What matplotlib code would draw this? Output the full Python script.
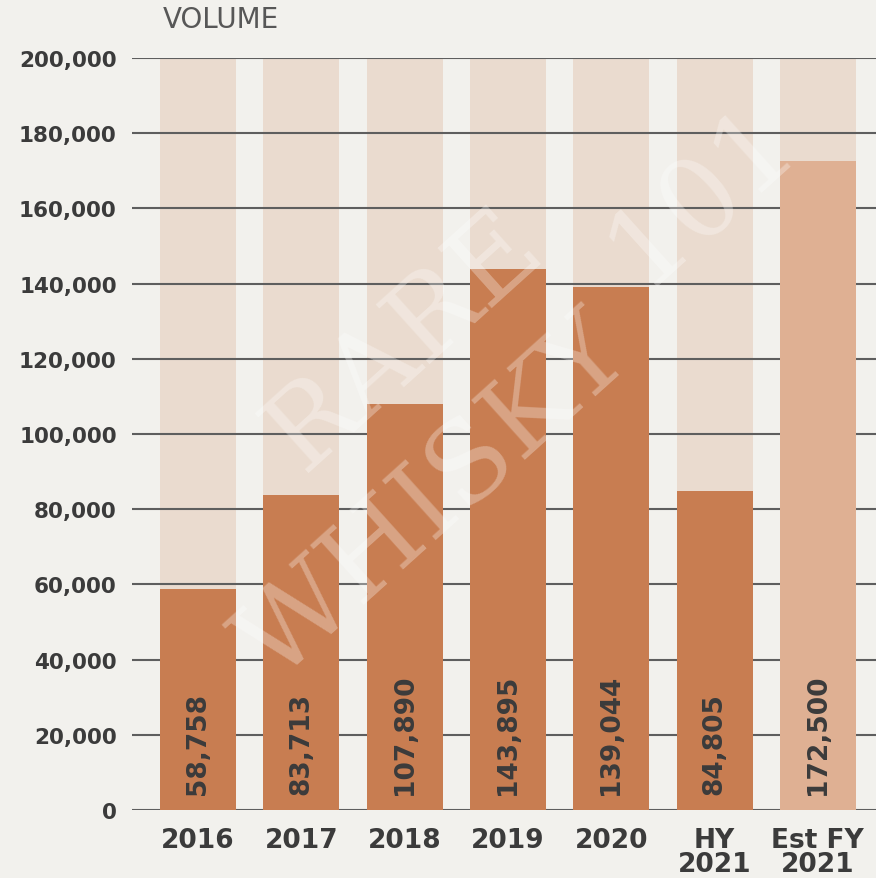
import matplotlib
matplotlib.use("Agg")
import matplotlib.pyplot as plt

categories = ["2016", "2017", "2018", "2019", "2020", "HY\n2021", "Est FY\n2021"]
volumes = [58758, 83713, 107890, 143895, 139044, 84805, 172500]
is_estimate = [False, False, False, False, False, False, True]
y_max = 200000
y_ticks = [0, 20000, 40000, 60000, 80000, 100000, 120000, 140000, 160000, 180000, 200000]

BG = "#f2f1ed"
TRACK = "#eadbcf"
BAR = "#c87d51"
EST = "#dfb093"
TEXT = "#3b3b3b"

fig = plt.figure(figsize=(8.76, 8.79), dpi=100, facecolor=BG)
ax = fig.add_axes([132/876, 1-811/879, 1-132/876, (811-59)/879])
ax.set_facecolor(BG)

x = list(range(len(categories)))
w = 0.736
ax.bar(x, [y_max]*len(x), width=w, color=TRACK, zorder=1, linewidth=0)
colors = [EST if e else BAR for e in is_estimate]
ax.bar(x, volumes, width=w, color=colors, zorder=2, linewidth=0)

ax.set_xlim(-0.639, 6.563)
ax.set_ylim(0, y_max)
ax.set_axisbelow('line')
ax.yaxis.grid(True, color="#5e5e5e", linewidth=1.5)
ax.xaxis.grid(False)
ax.set_yticks(y_ticks)
ax.set_yticklabels([f"{v:,}" for v in y_ticks])
ax.set_xticks(x)
ax.set_xticklabels(categories, linespacing=0.9)
for s in ax.spines.values():
    s.set_visible(False)
ax.tick_params(axis='y', length=0, pad=11, labelsize=15.5, labelcolor=TEXT)
ax.tick_params(axis='x', length=0, pad=12, labelsize=19, labelcolor=TEXT)
for lab in ax.get_yticklabels():
    lab.set_fontweight('bold')
for lab in ax.get_xticklabels():
    lab.set_fontweight('bold')

for xi, v in zip(x, volumes):
    ax.annotate(f"{v:,}", xy=(xi, 0), xytext=(0, 11.5), textcoords='offset points',
                rotation=90, ha='center', va='bottom', fontsize=19,
                fontweight='bold', color=TEXT, zorder=5)

# watermark
wm = dict(color='white', alpha=0.3, rotation=42, fontfamily='DejaVu Serif',
          ha='center', va='center', zorder=4)
fig.text(405/876, 1-340/879, "RARE", fontsize=80, **wm)
fig.text(435/876, 1-500/879, "WHISKY", fontsize=80, **wm)
fig.text(700/876, 1-195/879, "101", fontsize=80, **wm)

fig.text(163/876, 1-20/879, "VOLUME", fontsize=20, color="#575757",
         ha='left', va='center')

fig.savefig("out.png", dpi=100, facecolor=BG)
